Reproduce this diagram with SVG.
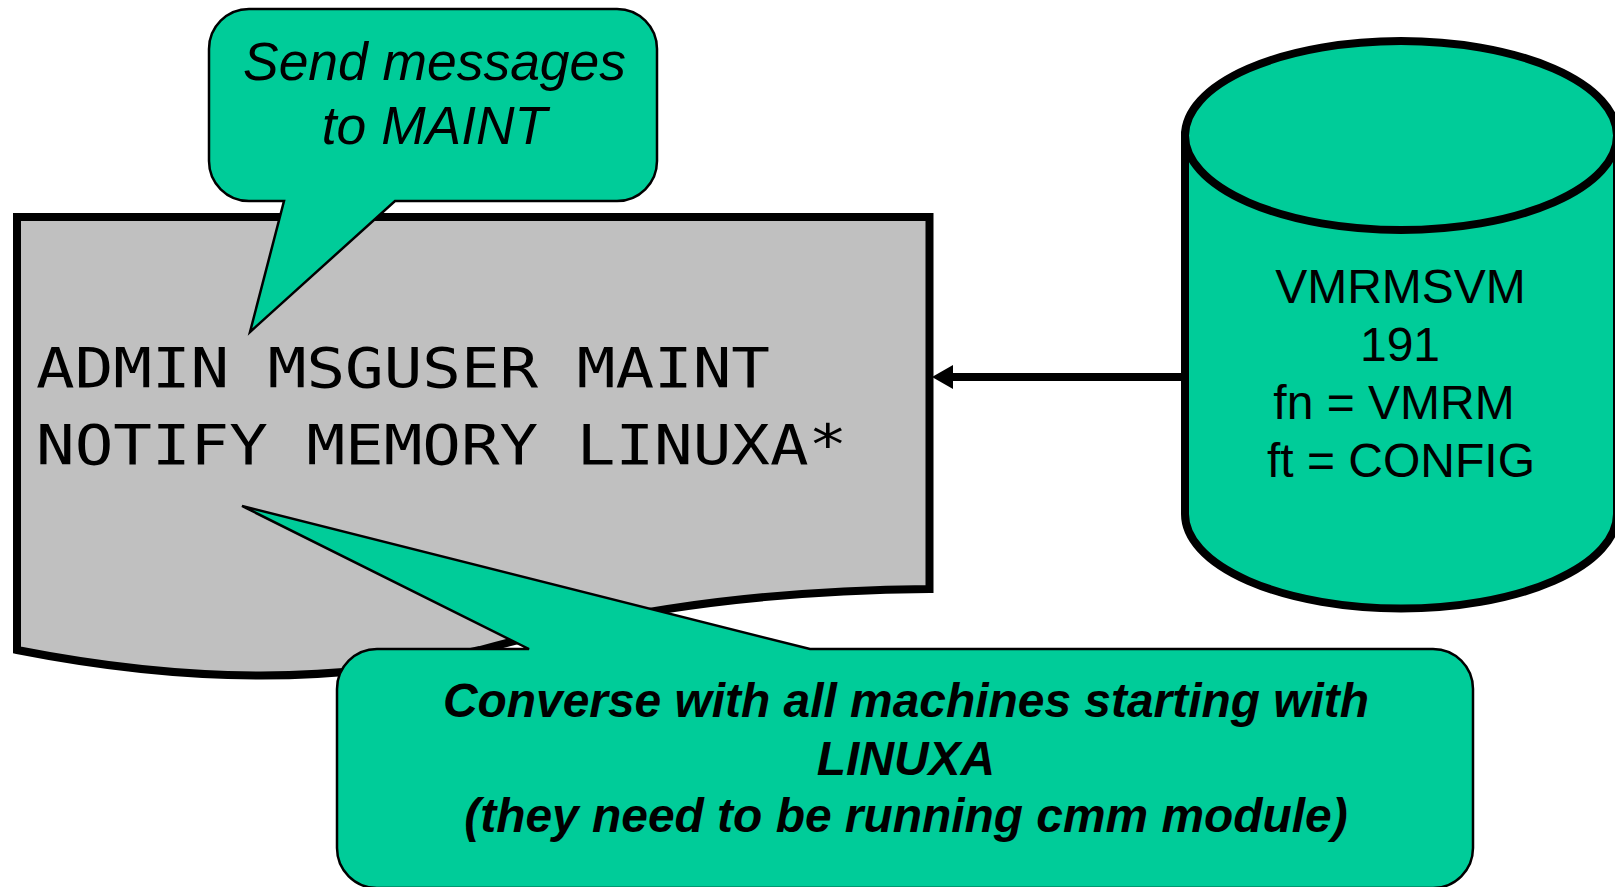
<svg xmlns="http://www.w3.org/2000/svg" width="1615" height="887" viewBox="0 0 1615 887">
<defs>
<style>
.g{fill:#00CC99;stroke:#000}
.callout{stroke-width:2.5;stroke-linejoin:miter}
.thick{stroke-width:8}
text{fill:#000;text-anchor:middle;font-family:"Liberation Sans",Arial,sans-serif}
.mono{font-family:"DejaVu Sans Mono",monospace;font-size:55px;text-anchor:start}
.it{font-style:italic;font-size:53.400px}
.bi{font-style:italic;font-weight:bold;font-size:47.900px}
.cyl{font-size:48px}
</style>
<marker id="ah" markerUnits="userSpaceOnUse" markerWidth="24" markerHeight="26" refX="0" refY="13" orient="auto"><path d="M21 13L0 1V25Z" fill="#000"/></marker>
</defs>
<rect width="1615" height="887" fill="#fff"/>
<g id="document">
<path d="M17 217H929.500V589C720 591 590 620 480 650C340 684 190 684 17 650Z" fill="#C0C0C0" stroke="#000" stroke-width="8"/>
<text class="mono" transform="translate(36 387) scale(1.167 1)">ADMIN MSGUSER MAINT</text>
<text class="mono" transform="translate(36 464) scale(1.167 1)">NOTIFY MEMORY LINUXA*</text>
</g>
<g id="callout-send">
<path class="g callout" d="M250 332L284 201H249A40 40 0 0 1 209 161V49A40 40 0 0 1 249 9H617A40 40 0 0 1 657 49V161A40 40 0 0 1 617 201H395Z"/>
<text class="it" x="434.500" y="80">Send messages</text>
<text class="it" x="434.500" y="144">to MAINT</text>
</g>
<g id="callout-converse">
<path class="g callout" d="M242 506L529 649H377A40 40 0 0 0 337 689V848A40 40 0 0 0 377 888H1433A40 40 0 0 0 1473 848V689A40 40 0 0 0 1433 649H810Z"/>
<text class="bi" x="906" y="717">Converse with all machines starting with</text>
<text class="bi" x="906" y="775">LINUXA</text>
<text class="bi" x="906" y="832">(they need to be running cmm module)</text>
</g>
<g id="cylinder">
<path class="g thick" d="M1185 135.500V514A216 94.500 0 0 0 1617 514V135.500Z"/>
<ellipse class="g thick" cx="1401" cy="135.500" rx="216" ry="94.500"/>
<text class="cyl" x="1400.500" y="303">VMRMSVM</text>
<text class="cyl" x="1400" y="361">191</text>
<text class="cyl" x="1394" y="419">fn = VMRM</text>
<text class="cyl" x="1401" y="477">ft = CONFIG</text>
</g>
<g id="connectors">
<path d="M1181 377H953" fill="none" stroke="#000" stroke-width="8" marker-end="url(#ah)"/>
</g>
</svg>
